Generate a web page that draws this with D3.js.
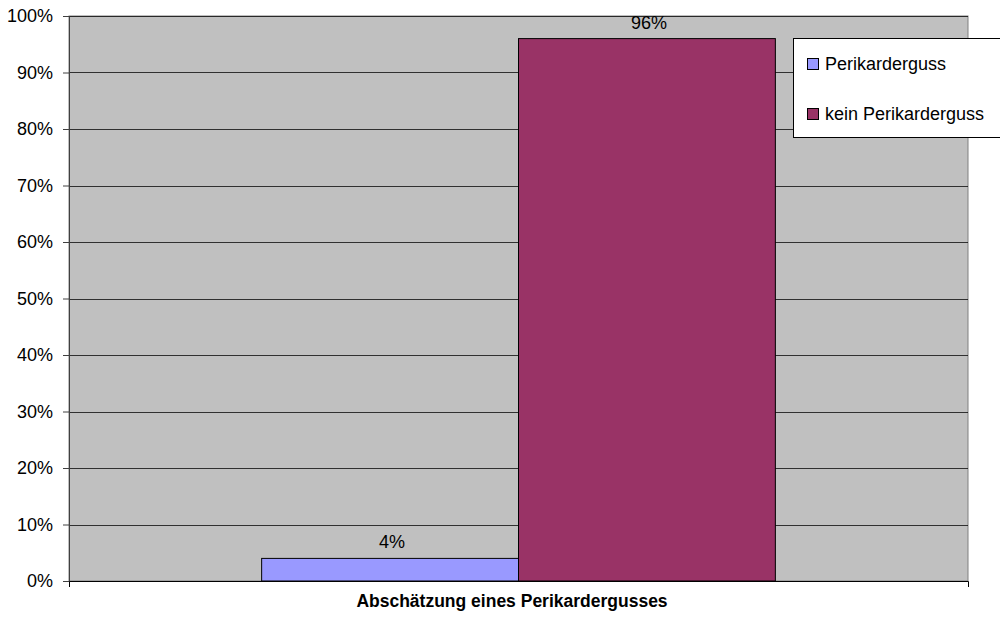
<!DOCTYPE html>
<html>
<head>
<meta charset="utf-8">
<script src="https://cdn.jsdelivr.net/npm/d3@7"></script>
<style>
  body { margin: 0; background: #fff; overflow: hidden; }
  svg { font-family: "Liberation Sans", Arial, sans-serif; }
</style>
</head>
<body>
<div id="chart-area"></div>
<script>
// Data
let category = "Abschätzung eines Perikardergusses";
let seriesNames = ["Perikarderguss", "kein Perikarderguss"];
let seriesValues = [4, 96];
let seriesColors = ["#9999FF", "#993366"];
let yTicks = [0, 10, 20, 30, 40, 50, 60, 70, 80, 90, 100];

let width = 1000, height = 622;
let plot = {left: 69, top: 16, right: 968, bottom: 581};

let svg = d3.select("#chart-area")
	.append("svg")
	.attr("width", width)
	.attr("height", height);

let y = d3.scaleLinear()
	.domain([0, 100])
	.range([plot.bottom, plot.top]);

// one category, Excel-style gap width 150%
let x0 = d3.scaleBand()
	.domain([category])
	.range([plot.left, plot.right])
	.padding(0);

let x1 = d3.scaleBand()
	.domain(seriesNames)
	.range([0, x0.bandwidth()])
	.paddingInner(0)
	.paddingOuter(0.75);

// plot background
svg.append("rect")
	.attr("x", plot.left)
	.attr("y", plot.top)
	.attr("width", plot.right - plot.left)
	.attr("height", plot.bottom - plot.top)
	.attr("fill", "#C0C0C0")
	.attr("stroke", "#808080")
	.attr("stroke-width", 1);

// gridlines
svg.append("g")
	.selectAll("line")
	.data(yTicks.slice(1))
	.enter()
	.append("line")
	.attr("x1", plot.left)
	.attr("x2", plot.right)
	.attr("y1", d => Math.round(y(d)) + 0.5)
	.attr("y2", d => Math.round(y(d)) + 0.5)
	.attr("stroke", "#000")
	.attr("stroke-width", 1)
	.attr("stroke-opacity", 0.75);

// bars
let bars = svg.append("g")
	.attr("transform", "translate(" + x0(category) + ",0)");

bars.selectAll("rect")
	.data(seriesValues)
	.enter()
	.append("rect")
	.attr("x", (d, i) => x1(seriesNames[i]))
	.attr("y", d => y(d))
	.attr("width", x1.bandwidth())
	.attr("height", d => plot.bottom - y(d))
	.attr("fill", (d, i) => seriesColors[i])
	.attr("stroke", "#000")
	.attr("stroke-width", 1);

bars.selectAll("text")
	.data(seriesValues)
	.enter()
	.append("text")
	.attr("x", (d, i) => x1(seriesNames[i]) + x1.bandwidth() / 2 + 2)
	.attr("y", d => y(d) - 10)
	.attr("text-anchor", "middle")
	.attr("font-size", 18)
	.attr("fill", "#000")
	.text(d => d + "%");

// y axis
let yAxis = d3.axisLeft(y)
	.tickValues(yTicks)
	.tickSize(6)
	.tickFormat(d => d + "%");

let yAxisGroup = svg.append("g")
	.attr("class", "axis y-axis")
	.attr("transform", "translate(" + plot.left + ",0)")
	.call(yAxis);

yAxisGroup.select(".domain").attr("stroke", "#404040");
yAxisGroup.selectAll(".tick line").attr("stroke", "#404040");
yAxisGroup.selectAll("text")
	.attr("font-size", 18)
	.attr("font-family", "Liberation Sans, Arial, sans-serif")
	.attr("fill", "#000")
	.attr("x", -16);

// x axis
let xAxis = d3.axisBottom(x0)
	.tickValues([])
	.tickSizeOuter(6);

let xAxisGroup = svg.append("g")
	.attr("class", "axis x-axis")
	.attr("transform", "translate(0," + plot.bottom + ")")
	.call(xAxis);

xAxisGroup.select(".domain").attr("stroke", "#000");

xAxisGroup.append("text")
	.attr("x", 512)
	.attr("y", 26)
	.attr("text-anchor", "middle")
	.attr("font-size", 17.5)
	.attr("font-weight", "bold")
	.attr("fill", "#000")
	.text(category);

// legend
let legend = svg.append("g")
	.attr("transform", "translate(793,38)");

legend.append("rect")
	.attr("x", 0.5)
	.attr("y", 0.5)
	.attr("width", 230)
	.attr("height", 99)
	.attr("fill", "#fff")
	.attr("stroke", "#000");

let legendItem = legend.selectAll(".item")
	.data(seriesNames)
	.enter()
	.append("g")
	.attr("class", "item")
	.attr("transform", (d, i) => "translate(14," + (26 + i * 50) + ")");

legendItem.append("rect")
	.attr("x", 0.5)
	.attr("y", -5.5)
	.attr("width", 11)
	.attr("height", 11)
	.attr("fill", (d, i) => seriesColors[i])
	.attr("stroke", "#000");

legendItem.append("text")
	.attr("x", 18)
	.attr("y", 6)
	.attr("font-size", 18)
	.attr("fill", "#000")
	.text(d => d);
</script>
</body>
</html>
